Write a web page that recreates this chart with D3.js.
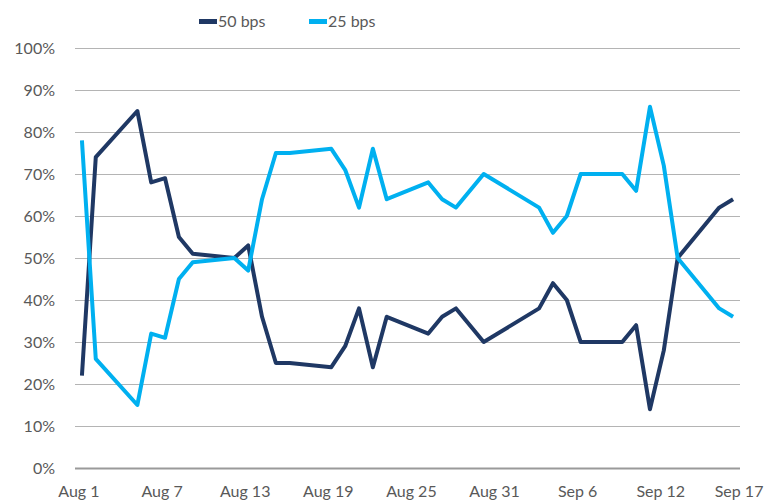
<!DOCTYPE html>
<html>
<head>
<meta charset="utf-8">
<script src="https://cdn.jsdelivr.net/npm/d3@7"></script>
<style>
  body { margin: 0; background: #fff; }
  text { font-family: Lato, "Open Sans", sans-serif; fill: #595959; }
</style>
</head>
<body>
<div id="chart"></div>
<script>
// Chart data (probabilities in %)
const dates = [
  '2024-08-01', '2024-08-02', '2024-08-05', '2024-08-06', '2024-08-07', '2024-08-08',
  '2024-08-09', '2024-08-12', '2024-08-13', '2024-08-14', '2024-08-15', '2024-08-16',
  '2024-08-19', '2024-08-20', '2024-08-21', '2024-08-22', '2024-08-23', '2024-08-26',
  '2024-08-27', '2024-08-28', '2024-08-30', '2024-09-03', '2024-09-04', '2024-09-05',
  '2024-09-06', '2024-09-09', '2024-09-10', '2024-09-11', '2024-09-12', '2024-09-13',
  '2024-09-16', '2024-09-17'
];
const bps50 = [22, 74, 85, 68, 69, 55, 51, 50, 53, 36, 25, 25, 24, 29, 38, 24, 36, 32, 36, 38, 30,
  38, 44, 40, 30, 30, 34, 14, 28, 50, 62, 64];
const bps25 = [78, 26, 15, 32, 31, 45, 49, 50, 47, 64, 75, 75, 76, 71, 62, 76, 64, 68, 64, 62, 70,
  62, 56, 60, 70, 70, 66, 86, 72, 50, 38, 36];
const seriesNames = ['50 bps', '25 bps'];
const seriesColors = ['#1f3864', '#00b0f0'];
const tickDates = ['2024-08-01', '2024-08-07', '2024-08-13', '2024-08-19', '2024-08-25',
  '2024-08-31', '2024-09-06', '2024-09-12', '2024-09-17'];
const tickLabels = ['Aug 1', 'Aug 7', 'Aug 13', 'Aug 19', 'Aug 25', 'Aug 31', 'Sep 6', 'Sep 12', 'Sep 17'];
const yTicks = [0, 10, 20, 30, 40, 50, 60, 70, 80, 90, 100];

const width = 768, height = 502;
const parse = d3.utcParse('%Y-%m-%d');

const svg = d3.select('#chart').append('svg')
  .attr('width', width)
  .attr('height', height);

// date axis with half-day padding at each end (Excel style)
const x = d3.scaleUtc()
  .domain([new Date(Date.UTC(2024, 6, 31, 12)), new Date(Date.UTC(2024, 8, 17, 12))])
  .range([75, 740]);
const y = d3.scaleLinear().domain([0, 100]).range([468, 48]);

// gridlines
svg.append('g')
  .selectAll('line')
  .data(yTicks)
  .join('line')
  .attr('x1', 75).attr('x2', 740)
  .attr('y1', d => y(d) + 0.5).attr('y2', d => y(d) + 0.5)
  .attr('stroke', d => d === 0 ? '#9a9a9a' : '#b4b4b4')
  .attr('stroke-width', d => d === 0 ? 1.8 : 1);

// y labels
svg.append('g')
  .selectAll('text')
  .data(yTicks)
  .join('text')
  .attr('x', 55)
  .attr('y', d => y(d))
  .attr('dy', '0.35em')
  .attr('text-anchor', 'end')
  .style('font-size', '16px')
  .text(d => d + '%');

// x labels
svg.append('g')
  .selectAll('text')
  .data(tickDates)
  .join('text')
  .attr('x', (d, i) => x(parse(d)) + (i === tickDates.length - 1 ? 6 : -3))
  .attr('y', 497)
  .attr('text-anchor', 'middle')
  .style('font-size', '16px')
  .text((d, i) => tickLabels[i]);

// lines
const line = d3.line()
  .x(d => x(d.date))
  .y(d => y(d.value));

[bps50, bps25].forEach((vals, s) => {
  const pts = vals.map((v, i) => ({ date: parse(dates[i]), value: v }));
  svg.append('path')
    .datum(pts)
    .attr('fill', 'none')
    .attr('stroke', seriesColors[s])
    .attr('stroke-width', 4)
    .attr('stroke-linejoin', 'round')
    .attr('d', line);
});

// legend
const legend = svg.append('g');
const legendX = [199, 309];
seriesNames.forEach((name, i) => {
  legend.append('rect')
    .attr('x', legendX[i]).attr('y', 19)
    .attr('width', 18).attr('height', 5)
    .attr('fill', seriesColors[i]);
  legend.append('text')
    .attr('x', legendX[i] + 19)
    .attr('y', 21)
    .attr('dy', '0.35em')
    .style('font-size', '16px')
    .text(name);
});
</script>
</body>
</html>
